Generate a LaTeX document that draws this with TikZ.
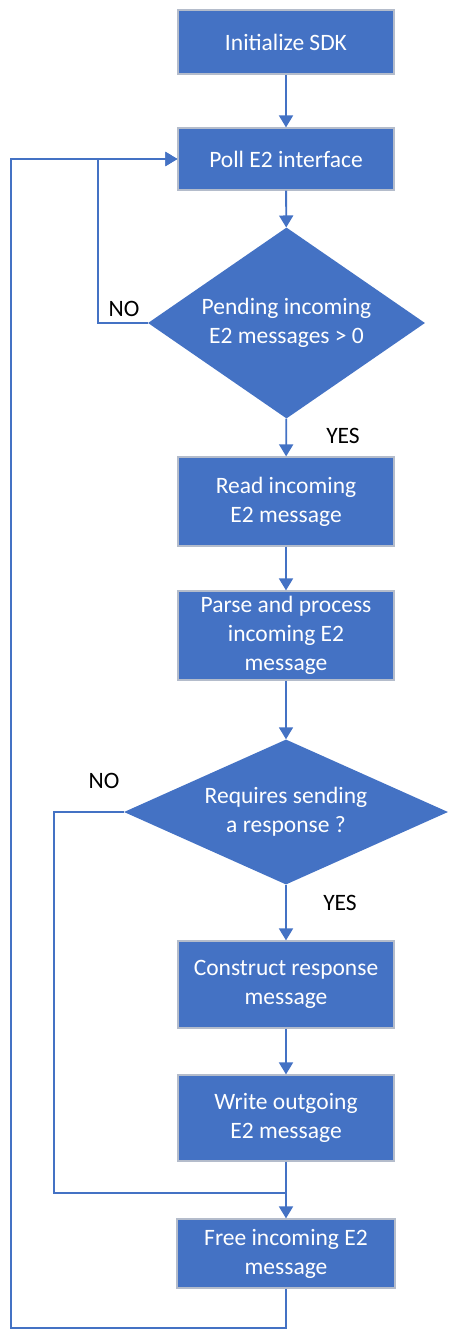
\documentclass[tikz,border=0pt]{standalone}
\usepackage{fontspec}
\setmainfont{Carlito}
\usetikzlibrary{arrows.meta,shapes.geometric}
\definecolor{fillblue}{HTML}{4472C4}
\definecolor{edgegray}{HTML}{B4BCCB}
\begin{document}
\begin{tikzpicture}[x=1pt,y=-1pt,
  every node/.style={font=\fontsize{23.5}{29}\selectfont},
  procbox/.style={rectangle, fill=fillblue, draw=edgegray, line width=1.2pt, text=white, align=center, inner sep=0pt},
  decbox/.style={diamond, fill=fillblue, draw=none, text=white, align=center, inner sep=0pt},
  conn/.style={draw=fillblue, line width=1.8pt},
  arr/.style={conn, -{Triangle[width=14pt,length=12pt]}},
  lbl/.style={text=black, inner sep=0pt}
]
\useasboundingbox (0,0) rectangle (460,1340);
\node[procbox, minimum width=216pt, minimum height=64pt] (init) at (286,42) {Initialize SDK};
\node[procbox, minimum width=216pt, minimum height=62pt] (poll) at (286,159) {Poll E2 interface};
\node[decbox, minimum width=277pt, minimum height=191pt, aspect=1.45] (d1) at (286.5,323) {Pending incoming\\E2 messages > 0};
\node[procbox, minimum width=216pt, minimum height=89pt] (read) at (286,501.5) {Read incoming\\E2 message};
\node[procbox, minimum width=216pt, minimum height=89pt] (parse) at (286,635.5) {Parse and process\\incoming E2\\message};
\node[decbox, minimum width=324pt, minimum height=145pt, aspect=2.23] (d2) at (286,812) {Requires sending\\a response ?};
\node[procbox, minimum width=216pt, minimum height=87pt] (cons) at (286,984.5) {Construct response\\message};
\node[procbox, minimum width=216pt, minimum height=86pt] (write) at (286,1118) {Write outgoing\\E2 message};
\node[procbox, minimum width=218pt, minimum height=69pt] (free) at (286,1253.5) {Free incoming E2\\message};

\node[lbl] (no1) at (124,309) {NO};
\node[lbl] (yes1) at (343,436) {YES};
\node[lbl] (no2) at (104,781) {NO};
\node[lbl] (yes2) at (340,903) {YES};

\coordinate (b1) at (98,323);
\coordinate (m) at (286,1193);
\coordinate (l2) at (54,1193);
\coordinate (lb) at (11,1328);

\draw[arr] (init) -- (poll);
\draw[arr] (poll) -- (d1);
\draw[arr] (d1) -- (read);
\draw[arr] (read) -- (parse);
\draw[arr] (parse) -- (d2);
\draw[arr] (d2) -- (cons);
\draw[arr] (cons) -- (write);
\draw[arr] (write) -- (free);
\draw[arr] (d1.west) -- (b1) |- (poll.west);
\draw[conn] (d2.west) -| (l2) -- (m);
\draw[arr] (free.south) |- (lb) |- (poll.west);
\end{tikzpicture}
\end{document}
